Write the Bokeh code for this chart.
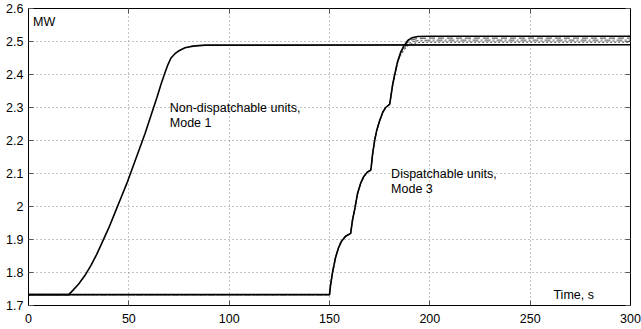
from bokeh.plotting import figure
from bokeh.models import LinearAxis, FixedTicker, Range1d, CustomJSTickFormatter
from bokeh.core.properties import value
from bokeh.embed import file_html
from bokeh.resources import INLINE

# ---- data ----
x_ticks = [0, 50, 100, 150, 200, 250, 300]
y_ticks = [1.7, 1.8, 1.9, 2.0, 2.1, 2.2, 2.3, 2.4, 2.5, 2.6]
y_tick_labels = ["1.7", "1.8", "1.9", "2", "2.1", "2.2", "2.3", "2.4", "2.5", "2.6"]

nd_t = [0, 20, 22, 25, 28, 31, 34, 37, 40, 43, 46, 49, 52, 55, 58, 61, 64, 66, 68,
        69.5, 71, 73, 75, 78, 82, 88, 300]
nd_v = [1.733, 1.733, 1.745, 1.765, 1.79, 1.82, 1.855, 1.895, 1.935, 1.98, 2.025, 2.07,
        2.12, 2.17, 2.22, 2.275, 2.33, 2.37, 2.405, 2.43, 2.45, 2.463, 2.472, 2.481,
        2.486, 2.489, 2.49]

d_t = [0, 150, 150.5, 151.5, 153, 154.5, 156, 158, 160.5, 160.8, 161.5, 162.5, 164,
       165.5, 167, 169, 170.5, 170.8, 171.5, 172.5, 173.5, 175, 176.5, 178, 180,
       180.5, 181.5, 182.5, 184, 185.5, 187, 189, 191, 194, 200, 300]
d_common = [1.733, 1.733, 1.76, 1.80, 1.845, 1.875, 1.895, 1.91, 1.918, 1.93, 1.96,
            1.99, 2.04, 2.07, 2.09, 2.105, 2.11, 2.12, 2.16, 2.2, 2.23, 2.26, 2.285,
            2.30, 2.31, 2.33, 2.37, 2.40, 2.44]
d_tail_1 = [2.468, 2.486, 2.503, 2.511, 2.515, 2.516, 2.516, 2.516]
d_tail_2 = [2.465, 2.482, 2.498, 2.505, 2.509, 2.510, 2.510, 2.510]
d_tail_3 = [2.462, 2.478, 2.493, 2.499, 2.503, 2.504, 2.504, 2.504]
d_tail_4 = [2.459, 2.474, 2.488, 2.493, 2.497, 2.498, 2.498, 2.498]

labels_text = ["Non-dispatchable units,", "Mode 1", "Dispatchable units,", "Mode 3", "MW", "Time, s"]
labels_x = [70.4, 70.4, 180.7, 180.7, 2.3, 261.6]
labels_y = [2.297, 2.252, 2.100, 2.052, 2.558, 1.731]

FONT = "Liberation Sans"

p = figure(width=641, height=329, output_backend="svg", toolbar_location=None,
           x_range=Range1d(0, 300), y_range=Range1d(1.7, 2.6),
           min_border_left=28, min_border_right=11, min_border_top=8, min_border_bottom=24)
p.background_fill_color = "white"
p.border_fill_color = "white"
p.outline_line_color = "black"
p.outline_line_width = 1
p.outline_line_alpha = 1

for ax in (p.xaxis[0], p.yaxis[0]):
    ax.major_tick_in = 5
    ax.major_tick_out = 0
    ax.minor_tick_in = 0
    ax.minor_tick_out = 0
    ax.axis_line_color = "black"
    ax.major_tick_line_color = "#555555"
    ax.major_label_text_font = FONT
    ax.major_label_text_font_size = "12.5px"
    ax.major_label_text_color = "black"

p.xaxis[0].ticker = FixedTicker(ticks=x_ticks)
p.xaxis[0].major_label_standoff = 8
p.yaxis[0].ticker = FixedTicker(ticks=y_ticks)
p.yaxis[0].major_label_overrides = dict(zip(y_ticks, y_tick_labels))
p.yaxis[0].major_label_standoff = 5

blank = CustomJSTickFormatter(code="return '';")
top = LinearAxis(ticker=FixedTicker(ticks=x_ticks), major_tick_in=5, major_tick_out=0,
                 minor_tick_in=0, minor_tick_out=0, formatter=blank,
                 major_label_standoff=0, axis_line_color="black", major_tick_line_color="#555555")
right = LinearAxis(ticker=FixedTicker(ticks=y_ticks), major_tick_in=5, major_tick_out=0,
                   minor_tick_in=0, minor_tick_out=0, formatter=blank,
                   major_label_standoff=0, axis_line_color="black", major_tick_line_color="#555555")
p.add_layout(top, "above")
p.add_layout(right, "right")

p.xgrid.ticker = FixedTicker(ticks=x_ticks)
p.ygrid.ticker = FixedTicker(ticks=y_ticks)
p.grid.grid_line_color = "#888888"
p.grid.grid_line_dash = "1 3"
p.grid.grid_line_width = 1

# dispatchable units (several variants)
styles = [("black", "solid", 1.6), ("#666666", "6 3", 1.2), ("#777777", "6 2 2 2", 1.2), ("#555555", "2 2", 1.2)]
tails = [d_tail_1, d_tail_2, d_tail_3, d_tail_4]
for tail, (c, dash, w) in list(zip(tails, styles))[::-1]:
    p.line(d_t, d_common + tail, line_color=c, line_dash=dash, line_width=w)

# non-dispatchable units
p.line(nd_t, nd_v, line_color="black", line_width=1.6)

p.text(x=labels_x, y=labels_y, text=labels_text, text_font=value(FONT),
       text_font_size="12.5px", text_baseline="middle", text_align="left", text_color="black")

open("out.html", "w").write(file_html(p, INLINE))
